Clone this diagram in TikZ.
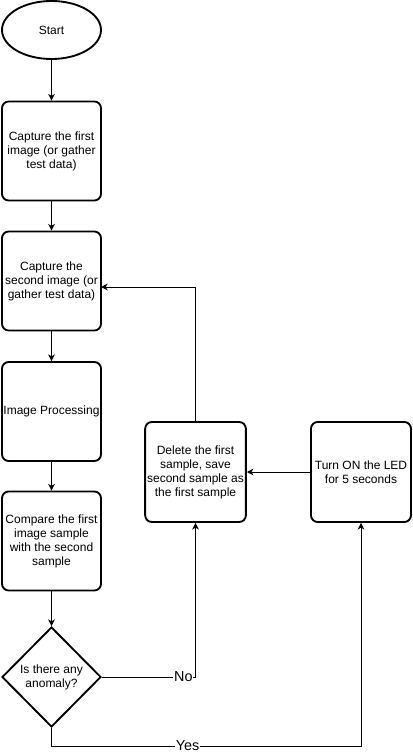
\documentclass[tikz,border=0pt]{standalone}
\usepackage{fontspec}
\setmainfont{Liberation Sans}
\usetikzlibrary{shapes.geometric,arrows.meta}
\begin{document}
\begin{tikzpicture}[x=0.75pt,y=-0.75pt,
  every node/.style={font=\fontsize{9pt}{10.5pt}\selectfont,align=center,inner sep=0pt},
  procbox/.style={draw,line width=1.4pt,rounded corners=5pt,minimum width=74.25pt,minimum height=74.25pt},
  startnode/.style={draw,ellipse,line width=1.4pt,minimum width=74.25pt,minimum height=43.5pt},
  decision/.style={draw,diamond,line width=1.4pt,minimum width=74.25pt,minimum height=75pt},
  arr/.style={line width=0.75pt,-{Stealth[length=5pt,width=5pt,inset=1.5pt]}},
  lab/.style={fill=white,font=\fontsize{10.8pt}{12pt}\selectfont,inner sep=0.5pt}]
\useasboundingbox (0,0) rectangle (412,755);
\node[startnode] (start) at (51.5,30) {Start};
\node[procbox] (b1) at (51.5,151) {Capture the first\\image (or gather\\test data)};
\node[procbox] (b2) at (51.5,281) {Capture the\\second image (or\\gather test data)};
\node[procbox] (b3) at (51.5,411.5) {Image Processing};
\node[procbox] (b4) at (51.5,541) {Compare the first\\image sample\\with the second\\sample};
\node[decision] (dia) at (51.5,677) {Is there any\\anomaly?};
\node[procbox,minimum width=75.5pt,minimum height=75pt] (del) at (195.5,472) {Delete the first\\sample, save\\second sample as\\the first sample};
\node[procbox,minimum width=75pt,minimum height=75pt] (led) at (361,472) {Turn ON the LED\\for 5 seconds};
\coordinate (c2in) at (101,287);
\coordinate (ybot) at (51.5,746);
\draw[arr] (start) -- (b1);
\draw[arr] (b1) -- (b2);
\draw[arr] (b2) -- (b3);
\draw[arr] (b3) -- (b4);
\draw[arr] (b4) -- (dia);
\draw[arr] (dia.east) -| node[lab,pos=0.435] {No} (del.south);
\draw[arr] (dia.south) -- (ybot) -| node[lab,pos=0.22] {Yes} (led.south);
\draw[arr] (led.west) -- (del.east);
\draw[arr] (del.north) |- (c2in);
\end{tikzpicture}
\end{document}
